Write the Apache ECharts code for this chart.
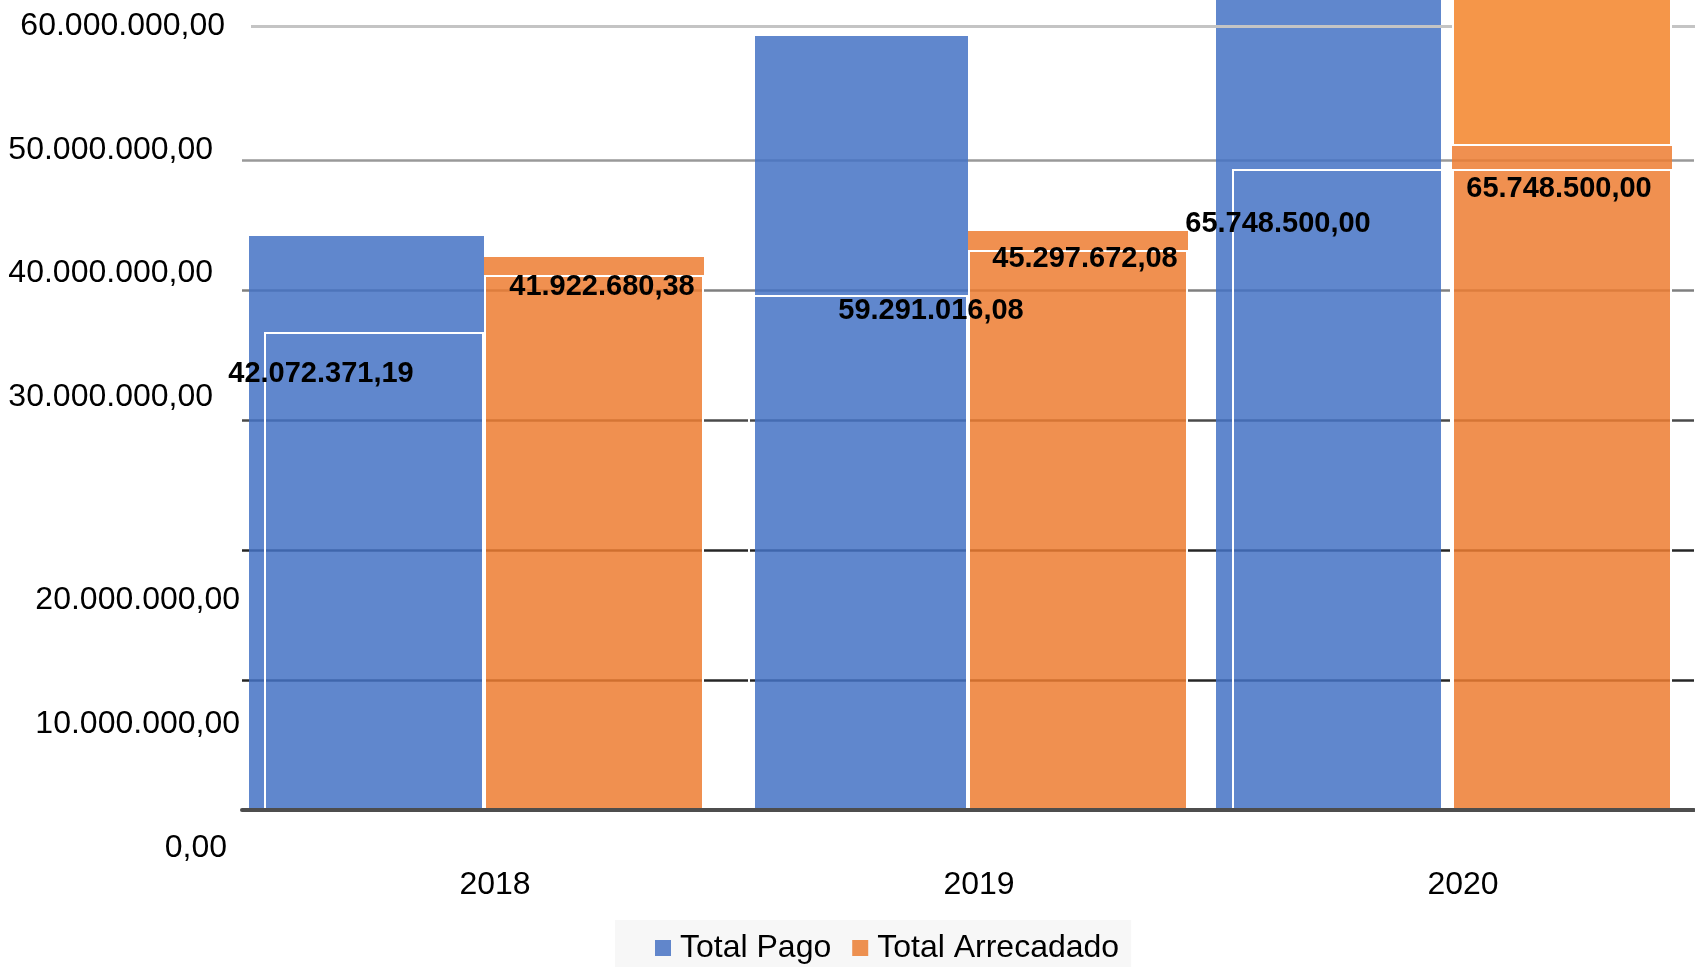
<!DOCTYPE html>
<html>
<head>
<meta charset="utf-8">
<script src="https://cdn.jsdelivr.net/npm/echarts@6/dist/echarts.min.js"></script>
<style>
html,body{margin:0;padding:0;background:#fff;}
#c{width:1695px;height:967px;}
</style>
</head>
<body>
<div id="c"></div>
<script>
// ---- data ----
const categories = ['2018', '2019', '2020'];
// printed data labels
const labelPago = [42072371.19, 59291016.08, 65748500.00];
const labelArrec = [41922680.38, 45297672.08, 65748500.00];
// bar heights as drawn (outer filled bars and inner white-outlined bars)
const pagoOuter = [44150000, 59540000, 65748500];
const pagoInner = [36770000, 39620000, 49310000];
const arrecOuter = [42540000, 44540000, 51080000];
const arrecInner = [41150000, 43080000, 49310000];
const arrecTopPart = [null, null, 15000000];
// light top grid line value
const topGridLine = 60000000;
// y-axis tick labels (groups drawn at different offsets)
const yLabelsA = [60000000];
const yLabelsB = [50000000, 40000000, 30000000];
const yLabelsC = [20000000, 10000000];
const yLabelsD = [0];

// ---- style / layout ----
const FONT = "'Liberation Sans', Arial, sans-serif";
const pagoLabelOffset = [[-53, 42], [73, 16], [-64, 55]];
const arrecLabelOffset = [[8, 12], [7, 9], [-3, 20]];
const pagoOuterWidth = [235, 213, 225];
const pagoOuterSpacer = [235, 213, 247];

function fmt(v) {
  const s = Math.abs(v).toFixed(2).split('.');
  const int = s[0].replace(/\B(?=(\d{3})+(?!\d))/g, '.');
  return (v < 0 ? '-' : '') + int + ',' + s[1];
}

const chart = echarts.init(document.getElementById('c'), null, {renderer: 'canvas'});

function labelGrid(left, top, bottom) {
  return {left: left, top: top, bottom: bottom, width: 10, containLabel: false};
}
function labelAxis(gridIndex, list) {
  return {
    type: 'value', gridIndex: gridIndex, min: 0, max: 60000000, interval: 10000000,
    axisLine: {show: false}, axisTick: {show: false}, splitLine: {show: false},
    axisLabel: {
      show: true, margin: 1, fontSize: 32, color: '#000', fontFamily: FONT,
      formatter: v => (list.indexOf(v) >= 0 ? fmt(v) : '')
    }
  };
}
function hiddenX(gridIndex) {
  return {type: 'value', gridIndex: gridIndex, show: false, min: 0, max: 1};
}
function hiddenCat() {
  return {type: 'category', gridIndex: 0, data: categories, show: false};
}

const labelCommon = {
  show: true, position: 'insideTop', distance: 0, align: 'center', verticalAlign: 'middle',
  fontSize: 29, fontWeight: 'bold', color: '#000', fontFamily: FONT
};

// outer blue bars: one series per year, each on its own hidden axis
const pagoOuterSeries = [];
categories.forEach((c, i) => {
  pagoOuterSeries.push({
    name: 'pagoFill' + c, type: 'bar', xAxisIndex: 2 + i, yAxisIndex: 0,
    data: pagoOuter.map((v, j) => (j === i ? v : '-')),
    barWidth: pagoOuterWidth[i], barGap: 0, clip: false, z: 2,
    itemStyle: {color: '#4472C4', opacity: 0.85}
  });
  pagoOuterSeries.push({
    name: 'pagoSpacer' + c, type: 'bar', xAxisIndex: 2 + i, yAxisIndex: 0,
    data: ['-', '-', '-'], barWidth: pagoOuterSpacer[i], barGap: 0
  });
});

const option = {
  animation: false,
  backgroundColor: '#ffffff',
  grid: [
    {left: 242, right: 1, top: 30, bottom: 157, containLabel: false},
    labelGrid(226, 26, 197),
    labelGrid(214, 27, 200),
    labelGrid(241, 104, 119),
    labelGrid(228, 104, 119),
    {left: 251, right: 0, top: 26, bottom: 157, containLabel: false}
  ],
  legend: {
    left: 615, top: 920,
    backgroundColor: '#f7f7f7',
    padding: [12, 12, 40, 40],
    itemWidth: 16, itemHeight: 16, itemGap: 21,
    icon: 'rect',
    selectedMode: false,
    textStyle: {fontSize: 32, color: '#000', fontFamily: FONT, padding: [0, 0, 0, 4]},
    data: [
      {name: 'Total Pago', itemStyle: {color: '#6186cb', borderWidth: 0, opacity: 1}},
      {name: 'Total Arrecadado', itemStyle: {color: '#ed9050', borderWidth: 0, opacity: 1}}
    ]
  },
  xAxis: [
    {
      type: 'category', gridIndex: 0, data: categories, z: 5,
      axisLine: {show: true, lineStyle: {color: '#4d4d4d', width: 4}},
      axisTick: {show: false},
      axisLabel: {fontSize: 32, color: '#000', fontFamily: FONT, margin: 59, padding: [0, 0, 0, 22]}
    },
    hiddenCat(), hiddenCat(), hiddenCat(), hiddenCat(),
    hiddenX(1), hiddenX(2), hiddenX(3), hiddenX(4), hiddenX(5)
  ],
  yAxis: [
    {
      type: 'value', gridIndex: 0, min: 0, max: 60000000, interval: 10000000,
      axisLine: {show: false}, axisTick: {show: false}, axisLabel: {show: false},
      splitLine: {show: true, lineStyle: {
        width: 2.5,
        color: ['#444444', '#262626', '#262626', '#4a4a4a', '#7f7f7f', '#999999', 'rgba(0,0,0,0)']
      }}
    },
    labelAxis(1, yLabelsA),
    labelAxis(2, yLabelsB),
    labelAxis(3, yLabelsC),
    labelAxis(4, yLabelsD),
    {
      type: 'value', gridIndex: 5, min: 0, max: 60000000, show: false,
      splitLine: {show: false}
    }
  ],
  series: pagoOuterSeries.concat([
    {
      name: 'arrecSpacer', type: 'bar', xAxisIndex: 1, yAxisIndex: 0,
      data: ['-', '-', '-'], barWidth: 220, barGap: 0
    },
    {
      name: 'arrecFill', type: 'bar', xAxisIndex: 1, yAxisIndex: 0, stack: 'ar',
      data: arrecOuter, barWidth: 220, barGap: 0, clip: false, z: 2,
      itemStyle: {color: '#ED7D31', opacity: 0.85}
    },
    {
      name: 'arrecTop', type: 'bar', xAxisIndex: 1, yAxisIndex: 0, stack: 'ar',
      data: arrecTopPart, barWidth: 220, barGap: 0, clip: false, z: 5,
      itemStyle: {color: '#f59649', borderColor: '#ffffff', borderWidth: 2}
    },
    {
      name: 'Total Pago', type: 'bar', xAxisIndex: 0, yAxisIndex: 0,
      data: pagoInner.map((v, i) => ({value: v, label: {offset: pagoLabelOffset[i]}})),
      barWidth: 220, barGap: 0, clip: false, z: 4,
      itemStyle: {color: 'rgba(0,0,0,0)', borderColor: '#ffffff', borderWidth: 2},
      label: Object.assign({}, labelCommon, {formatter: p => fmt(labelPago[p.dataIndex])})
    },
    {
      name: 'Total Arrecadado', type: 'bar', xAxisIndex: 0, yAxisIndex: 0,
      data: arrecInner.map((v, i) => ({value: v, label: {offset: arrecLabelOffset[i]}})),
      barWidth: 220, barGap: 0, clip: false, z: 4,
      itemStyle: {color: 'rgba(0,0,0,0)', borderColor: '#ffffff', borderWidth: 2},
      label: Object.assign({}, labelCommon, {formatter: p => fmt(labelArrec[p.dataIndex])})
    },
    {
      name: 'topLine', type: 'line', xAxisIndex: 9, yAxisIndex: 5,
      data: [], showSymbol: false, silent: true, z: 3,
      markLine: {
        silent: true, symbol: ['none', 'none'], z: 3,
        label: {show: false},
        lineStyle: {color: '#c4c4c4', width: 3, type: 'solid'},
        emphasis: {disabled: true},
        data: [{yAxis: topGridLine}]
      }
    }
  ])
};
chart.setOption(option);
</script>
</body>
</html>
